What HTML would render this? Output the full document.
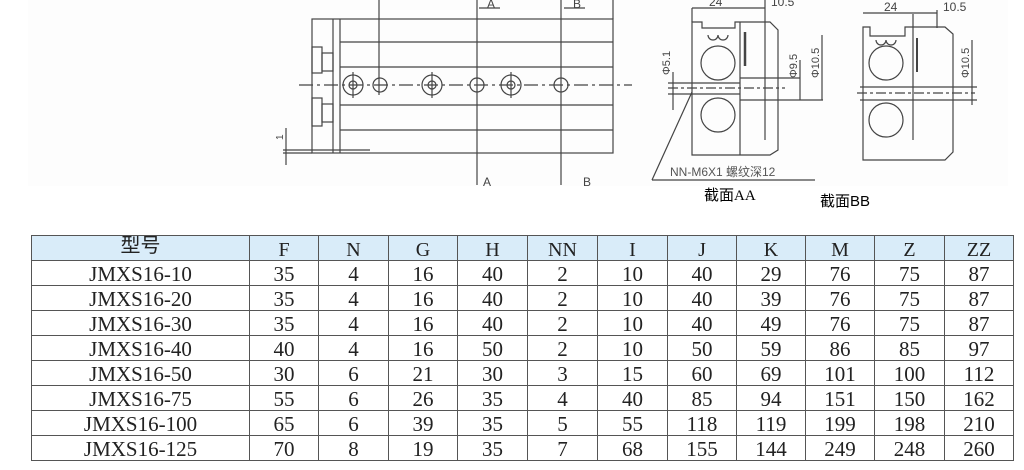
<!DOCTYPE html>
<html><head><meta charset="utf-8"><style>
html,body{margin:0;padding:0;background:#fff;width:1024px;height:470px;overflow:hidden;position:relative}
svg{position:absolute;left:0;top:0}
table{position:absolute;left:31px;top:235px;border-collapse:collapse;table-layout:fixed;font-family:"Liberation Serif","Noto Serif CJK SC",serif;font-size:21px;color:#222}
td{border:1.5px solid #555;text-align:center;padding:0;line-height:22px;overflow:hidden;vertical-align:bottom}
tr{height:25px}
tr.h{height:25px}
tr.h td{background:#d9ecf9;line-height:20px;font-size:20px}
tr.h td:first-child{vertical-align:top;line-height:20px}
td:first-child{font-family:"Liberation Serif","Noto Sans CJK SC",serif}
</style></head><body>
<svg width="1024" height="230" viewBox="0 0 1024 230" font-family="Liberation Sans, sans-serif">
<rect x="28" y="0" width="980" height="186" fill="#fdfdfd"/>
<g stroke="#444" stroke-width="1.2" fill="none">
<rect x="312" y="19" width="301" height="134"/>
<line x1="613" y1="0" x2="613" y2="19"/>
<line x1="333" y1="19" x2="333" y2="153"/>
<line x1="340" y1="19" x2="340" y2="153"/>
<line x1="340" y1="42" x2="613" y2="42"/>
<line x1="340" y1="67" x2="613" y2="67"/>
<line x1="340" y1="105" x2="613" y2="105"/>
<line x1="340" y1="130" x2="613" y2="130"/>
<rect x="312" y="47" width="10" height="26"/>
<rect x="322" y="53" width="11" height="18"/>
<rect x="312" y="98" width="10" height="28"/>
<rect x="322" y="104" width="11" height="18"/>
<line x1="283" y1="150" x2="370" y2="150"/>
<line x1="283" y1="153" x2="312" y2="153"/>
<line x1="286" y1="128" x2="286" y2="165"/>
<line x1="379" y1="0" x2="379" y2="95"/>
<line x1="477" y1="0" x2="477" y2="185"/>
<line x1="561" y1="0" x2="561" y2="185"/>
<line x1="299" y1="85" x2="632" y2="85" stroke-dasharray="14,4,3,4"/>
<circle cx="353" cy="85" r="10"/><circle cx="353" cy="85" r="4"/>
<circle cx="380" cy="85" r="7"/>
<circle cx="432" cy="85" r="10"/><circle cx="432" cy="85" r="4"/>
<circle cx="477" cy="85" r="7"/>
<circle cx="511" cy="85" r="10"/><circle cx="511" cy="85" r="4"/>
<circle cx="561" cy="85" r="7"/>
<line x1="353" y1="72" x2="353" y2="98"/><line x1="432" y1="72" x2="432" y2="98"/><line x1="511" y1="72" x2="511" y2="98"/>
<line x1="479" y1="8" x2="500" y2="8"/><line x1="564" y1="8" x2="585" y2="8"/>
<path d="M692 22 H702 V28 H735 V22 H770 L778 30 V150 L770 155 H692 Z"/>
<line x1="740" y1="22" x2="740" y2="155"/>
<line x1="765" y1="22" x2="765" y2="140"/>
<line x1="692" y1="8" x2="740" y2="8"/><line x1="740" y1="8" x2="765" y2="8"/>
<line x1="692" y1="8" x2="692" y2="22"/><line x1="765" y1="0" x2="765" y2="22"/>
<circle cx="718" cy="63" r="17"/><circle cx="718" cy="115" r="17"/>
<path d="M708 35 a5 5 0 0 0 10 0 a5 5 0 0 0 10 0"/>
<line x1="745" y1="32" x2="745" y2="66" stroke-width="2.5"/>
<line x1="668" y1="88" x2="785" y2="88" stroke-dasharray="10,3,3,3"/>
<line x1="668" y1="83" x2="740" y2="83"/><line x1="668" y1="94" x2="740" y2="94"/>
<line x1="740" y1="78" x2="800" y2="78"/><line x1="740" y1="100" x2="823" y2="100"/>
<line x1="673" y1="72" x2="673" y2="110"/><line x1="800" y1="60" x2="800" y2="100"/><line x1="822" y1="35" x2="822" y2="100"/>
<line x1="692" y1="92" x2="652" y2="180"/>
<line x1="652" y1="180" x2="815" y2="180"/>
<path d="M863 27 H870 V36 H905 V27 H945 L953 34 V152 L945 160 H863 Z"/>
<line x1="913" y1="14" x2="913" y2="140"/>
<line x1="863" y1="13" x2="913" y2="13"/><line x1="913" y1="13" x2="937" y2="13"/>
<line x1="937" y1="10" x2="937" y2="28"/>
<circle cx="886" cy="63" r="17"/><circle cx="886" cy="120" r="17"/>
<path d="M876 40 a5 5 0 0 0 10 0 a5 5 0 0 0 10 0"/>
<line x1="917" y1="38" x2="917" y2="72" stroke-width="2"/>
<line x1="857" y1="93" x2="975" y2="93" stroke-dasharray="10,3,3,3"/>
<line x1="860" y1="87" x2="977" y2="87"/><line x1="860" y1="100" x2="977" y2="100"/>
<line x1="972" y1="40" x2="972" y2="105"/>
</g>
<g fill="#444" font-size="12">
<text x="487" y="8">A</text><text x="573" y="8">B</text>
<text x="483" y="186">A</text><text x="583" y="186">B</text>
<text x="709" y="6">24</text><text x="771" y="6">10.5</text>
<text x="884" y="11">24</text><text x="943" y="11">10.5</text>
<text x="670" y="176" font-family="Liberation Sans, Noto Sans CJK SC, sans-serif" font-size="12" fill="#555">NN-M6X1 螺纹深12</text>
<text transform="translate(670,75) rotate(-90)" font-size="11">Φ5.1</text>
<text transform="translate(797,78) rotate(-90)" font-size="11">Φ9.5</text>
<text transform="translate(819,78) rotate(-90)" font-size="11">Φ10.5</text>
<text transform="translate(969,78) rotate(-90)" font-size="11">Φ10.5</text>
<text transform="translate(283,140) rotate(-90)" font-size="10">1</text>
</g>
<text x="704" y="200" font-family="Liberation Serif, Noto Sans CJK SC, serif" font-size="15" fill="#000">截面AA</text>
<text x="820" y="206" font-family="Liberation Sans, Noto Sans CJK SC, sans-serif" font-size="15" fill="#000">截面BB</text>
</svg>
<table>
<colgroup><col style="width:218px"><col style="width:69px"><col style="width:70px"><col style="width:69px"><col style="width:70px"><col style="width:70px"><col style="width:70px"><col style="width:69px"><col style="width:69px"><col style="width:69px"><col style="width:70px"><col style="width:69px"></colgroup>
<tr class="h"><td>型号</td><td>F</td><td>N</td><td>G</td><td>H</td><td>NN</td><td>I</td><td>J</td><td>K</td><td>M</td><td>Z</td><td>ZZ</td></tr>
<tr><td>JMXS16-10</td><td>35</td><td>4</td><td>16</td><td>40</td><td>2</td><td>10</td><td>40</td><td>29</td><td>76</td><td>75</td><td>87</td></tr>
<tr><td>JMXS16-20</td><td>35</td><td>4</td><td>16</td><td>40</td><td>2</td><td>10</td><td>40</td><td>39</td><td>76</td><td>75</td><td>87</td></tr>
<tr><td>JMXS16-30</td><td>35</td><td>4</td><td>16</td><td>40</td><td>2</td><td>10</td><td>40</td><td>49</td><td>76</td><td>75</td><td>87</td></tr>
<tr><td>JMXS16-40</td><td>40</td><td>4</td><td>16</td><td>50</td><td>2</td><td>10</td><td>50</td><td>59</td><td>86</td><td>85</td><td>97</td></tr>
<tr><td>JMXS16-50</td><td>30</td><td>6</td><td>21</td><td>30</td><td>3</td><td>15</td><td>60</td><td>69</td><td>101</td><td>100</td><td>112</td></tr>
<tr><td>JMXS16-75</td><td>55</td><td>6</td><td>26</td><td>35</td><td>4</td><td>40</td><td>85</td><td>94</td><td>151</td><td>150</td><td>162</td></tr>
<tr><td>JMXS16-100</td><td>65</td><td>6</td><td>39</td><td>35</td><td>5</td><td>55</td><td>118</td><td>119</td><td>199</td><td>198</td><td>210</td></tr>
<tr><td>JMXS16-125</td><td>70</td><td>8</td><td>19</td><td>35</td><td>7</td><td>68</td><td>155</td><td>144</td><td>249</td><td>248</td><td>260</td></tr>
</table>
</body></html>
